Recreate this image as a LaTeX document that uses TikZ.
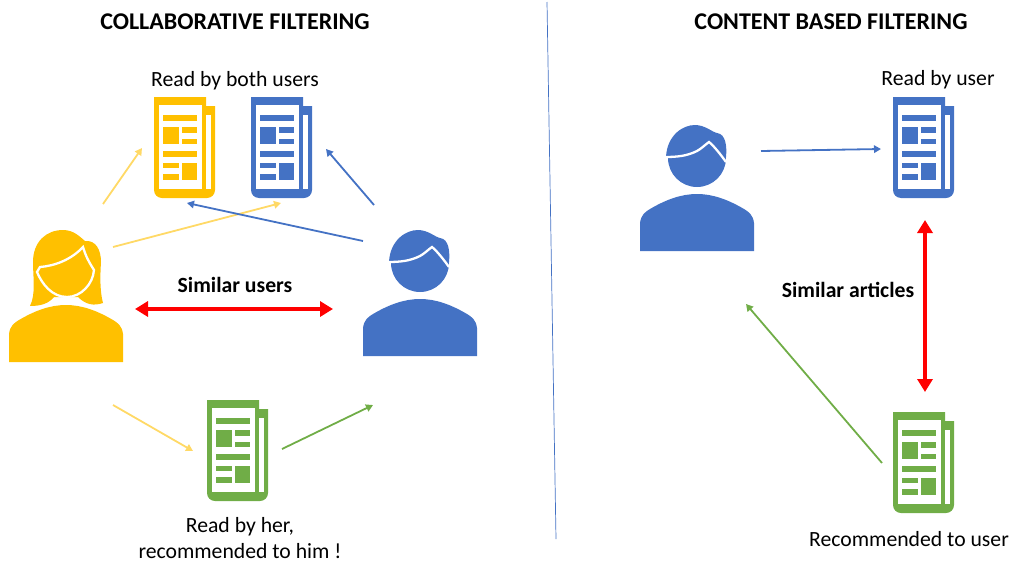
\documentclass[tikz,border=0pt]{standalone}
\usepackage{fontspec}
\setmainfont{Carlito}
\usetikzlibrary{arrows.meta}
\definecolor{userYellow}{HTML}{FFC000}
\definecolor{paleYellow}{HTML}{FFD966}
\definecolor{userBlue}{HTML}{4472C4}
\definecolor{userGreen}{HTML}{70AD47}
% shoulders shared by both users, origin at the middle of the lower edge
\newcommand{\shoulderpath}{(-57,0) -- (-57,-28) .. controls (-56,-36) and (-52,-39) .. (-47,-42) .. controls (-30,-52) and (-15,-57) .. (0,-57) .. controls (15,-57) and (30,-52) .. (47,-42) .. controls (52,-39) and (56,-36) .. (57,-28) -- (57,0) -- cycle}
\tikzset{
  thinarrow/.style={line width=1.8pt, -{Triangle[length=7pt,width=7.5pt]}},
  similar/.style={red, line width=4pt, {Triangle[length=13pt,width=15pt]}-{Triangle[length=13pt,width=15pt]}},
  heading/.style={font=\fontsize{24}{28}\selectfont\bfseries, align=center},
  caption/.style={font=\fontsize{21.7}{26}\selectfont, align=center},
  boldcaption/.style={font=\fontsize{21.7}{26}\selectfont\bfseries},
  % newspaper, origin at its top left corner
  article/.pic={
    \fill[pic actions] (0,0) -- (52,0) -- (52,9) -- (61,9) [rounded corners=8pt] -- (61,101) -- (0,101) -- (0,50) [sharp corners] -- cycle;
    \fill[white] (5,8) rectangle (48,92);
    \fill[white] (52,18) rectangle (57,92);
    \fill[pic actions] (9,18) rectangle (43,24);
    \fill[pic actions] (9,30) rectangle (24.5,47);
    \fill[pic actions] (28,30) rectangle (43,36);
    \fill[pic actions] (28,42) rectangle (43,47);
    \fill[pic actions] (9,54) rectangle (43,60);
    \fill[pic actions] (9,66) rectangle (24.5,71);
    \fill[pic actions] (9,77) rectangle (24.5,83);
    \fill[pic actions] (28,66) rectangle (43,83);
  },
  % man, origin at the middle of his lower edge
  man/.pic={
    \fill[pic actions] \shoulderpath;
    \fill[pic actions] (0,-93) circle (29);
    \fill[pic actions] (-31,-94) .. controls (-30,-115) and (-15,-126) .. (-2,-126) .. controls (8,-126) and (15,-119) .. (20,-118) .. controls (29,-117) and (30,-104) .. (29,-94) -- cycle;
    \draw[white, line width=2.3pt] (-32,-94) .. controls (-20,-94) and (-10,-95) .. (0,-100) .. controls (4,-102) and (9,-107) .. (12,-109) .. controls (17,-105) and (24,-96) .. (29,-89);
  },
  % woman, origin at the middle of her lower edge
  woman/.pic={
    \fill[pic actions] (-36,-56) .. controls (-30,-68) and (-33,-85) .. (-33,-100) .. controls (-33,-120) and (-20,-132) .. (-3,-132) .. controls (8,-132) and (14,-125) .. (19,-121) .. controls (30,-122) and (35,-112) .. (35,-100) .. controls (34,-85) and (34,-70) .. (37,-59) .. controls (28,-56) and (20,-57) .. (12,-65) -- (-12,-65) .. controls (-17,-59) and (-24,-56) .. (-36,-56) -- cycle;
    \fill[pic actions, draw=white, line width=2.3pt] (-26,-95) .. controls (-12,-96) and (5,-102) .. (17,-115) .. controls (20,-105) and (23,-100) .. (28,-92) .. controls (27,-78) and (15,-65) .. (1,-65) .. controls (-14,-65) and (-24,-78) .. (-29,-90) -- cycle;
    \fill[pic actions] \shoulderpath;
  },
}
\begin{document}
\begin{tikzpicture}[x=1pt, y=-1pt]
  \useasboundingbox (0,0) rectangle (1011,562);

  % Titles
  \node[heading] (titleCollab) at (235,22) {COLLABORATIVE FILTERING};
  \node[heading] (titleContent) at (831,22) {CONTENT BASED FILTERING};

  % Separator
  \coordinate (sepTop) at (547,2);
  \coordinate (sepBottom) at (556,539);
  \draw[userBlue, line width=0.7pt] (sepTop) -- (sepBottom);

  % Left side: users and articles
  \pic[fill=userYellow] at (66,362) {woman};
  \pic[fill=userBlue] at (420,356) {man};
  \pic[fill=userYellow] at (154,97) {article};
  \pic[fill=userBlue] at (251,97) {article};
  \pic[fill=userGreen] at (207,400) {article};

  % Right side: user and articles
  \pic[fill=userBlue] at (697,251) {man};
  \pic[fill=userBlue] at (893,97) {article};
  \pic[fill=userGreen] at (893,412) {article};

  % Labels
  \node[caption] (bothLabel) at (235,81) {Read by both users};
  \node[boldcaption] (usersLabel) at (235,285) {Similar users};
  \node[caption] (herLabel) at (240,538) {Read by her,\\recommended to him !};
  \node[caption] (userLabel) at (938,80) {Read by user};
  \node[boldcaption] (articlesLabel) at (848,290) {Similar articles};
  \node[caption] (recLabel) at (909,539) {Recommended to user};

  % Arrow ends
  \coordinate (herUp) at (103,204);
  \coordinate (yellowIn) at (142,148);
  \coordinate (herCross) at (113,247);
  \coordinate (blueUnder) at (281,203);
  \coordinate (himCross) at (363,241);
  \coordinate (yellowUnder) at (187,203);
  \coordinate (himUp) at (374,205);
  \coordinate (blueIn) at (326,149);
  \coordinate (herDown) at (113,405);
  \coordinate (greenIn) at (193,451);
  \coordinate (greenOut) at (282,449);
  \coordinate (himDown) at (373,405);
  \coordinate (herSide) at (135,309);
  \coordinate (himSide) at (333,309);
  \coordinate (userOut) at (761,151);
  \coordinate (readIn) at (881,149);
  \coordinate (readDown) at (925,220);
  \coordinate (recUp) at (925,392);
  \coordinate (recOut) at (882,463);
  \coordinate (userIn) at (746,304);

  % Connectors
  \draw[thinarrow, paleYellow] (herUp) -- (yellowIn);
  \draw[thinarrow, paleYellow] (herCross) -- (blueUnder);
  \draw[thinarrow, userBlue] (himCross) -- (yellowUnder);
  \draw[thinarrow, userBlue] (himUp) -- (blueIn);
  \draw[thinarrow, paleYellow] (herDown) -- (greenIn);
  \draw[thinarrow, userGreen] (greenOut) -- (himDown);
  \draw[similar] (herSide) -- (himSide);
  \draw[thinarrow, userBlue] (userOut) -- (readIn);
  \draw[similar] (readDown) -- (recUp);
  \draw[thinarrow, userGreen] (recOut) -- (userIn);
\end{tikzpicture}
\end{document}
